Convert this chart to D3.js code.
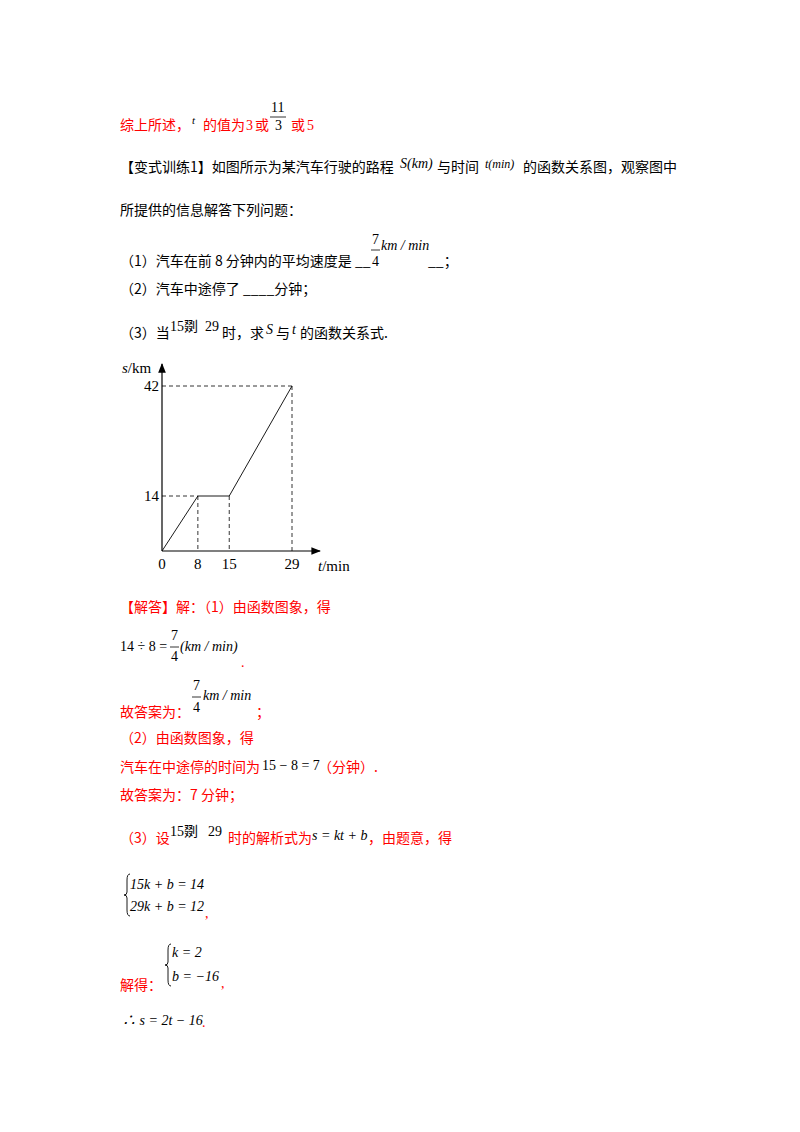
<!DOCTYPE html>
<html><head><meta charset="utf-8">
<script src="https://cdn.jsdelivr.net/npm/d3@7"></script>
<style>
body{margin:0;background:#fff}
text{font-family:"Liberation Serif","Noto Sans CJK SC",serif;font-size:14px}
.cn{font-family:"Noto Sans CJK SC",sans-serif;font-size:14px}
.red{fill:#f00}
.it{font-style:italic}
</style></head>
<body>
<svg id="page" width="800" height="1132"></svg>
<script>
// chart data
const timeValues = [0, 8, 15, 29];
const distValues = [0, 14, 14, 42];
const xTicks = [0, 8, 15, 29];
const yTicks = [14, 42];

const svg = d3.select("#page");

// text runs: [x, y, string, class]
const runs = [
  [120,130,"综上所述，","cn red"],[192,124,"t","it small"],[203,130,"的值为","cn red"],[246,130,"3","red"],[255,130,"或","cn red"],
  [271,112,"11",""],[275,130,"3",""],[291,130,"或","cn red"],[307,130,"5","red"],
  [120,172,"【变式训练1】如图所示为某汽车行驶的路程","cn"],[400,168,"S(km)","it"],[437,172,"与时间","cn"],[485,168,"t(min)","it sm2"],[523,172,"的函数关系图，观察图中","cn"],
  [120,215,"所提供的信息解答下列问题：","cn"],
  [120,266,"（1）汽车在前 8 分钟内的平均速度是 __","cn"],[372,244,"7",""],[372,266,"4",""],[381,250,"km / min","it"],[428,266,"__；","cn"],
  [120,294,"（2）汽车中途停了 ____分钟；","cn"],
  [120,338,"（3）当","cn"],[170,331,"15剟",""],[205,331,"29",""],[222,338,"时，求","cn"],[266,334,"S","it"],[276,338,"与","cn"],[292,334,"t","it"],[300,338,"的函数关系式.","cn"],
  [120,612,"【解答】解：（1）由函数图象，得","cn red"],
  [120,651,"14 ÷ 8 = ",""],[171,640,"7",""],[171,661,"4",""],[180,651,"(km / min)","it"],[241,667,".","red"],
  [120,717,"故答案为：","cn red"],[193,690,"7",""],[193,712,"4",""],[203,700,"km / min","it"],[256,717,"；","cn red"],
  [120,743,"（2）由函数图象，得","cn red"],
  [120,772,"汽车在中途停的时间为","cn red"],[262,770,"15 − 8 = 7",""],[318,772,"（分钟）.","cn red"],
  [120,800,"故答案为：7 分钟；","cn red"],
  [120,843,"（3）设","cn red"],[170,836,"15剟",""],[208,836,"29",""],[228,843,"时的解析式为","cn red"],[312,840,"s = kt + b","it"],[368,843,"，由题意，得","cn red"],
  [130,889,"15k + b = 14","it"],[130,911,"29k + b = 12","it"],[205,918,",","red"],
  [120,990,"解得：","cn red"],[172,957,"k = 2","it"],[172,981,"b = −16","it"],[221,988,",","red"],
  [122,1025,"∴ s = 2t − 16","it"],[202,1027,".","red"]
];
svg.append("g").selectAll("text").data(runs).join("text")
  .attr("x", d => d[0]).attr("y", d => d[1]).attr("class", d => d[3])
  .style("font-size", d => d[3].includes("small") ? "11px" : (d[3].includes("sm2") ? "12px" : null))
  .text(d => d[2]);

// fraction bars and braces
const bars = [[270,286,117],[371,380,250],[170,179,647],[192,201,697]];
svg.append("g").selectAll("line").data(bars).join("line")
  .attr("x1", d => d[0]).attr("x2", d => d[1]).attr("y1", d => d[2]).attr("y2", d => d[2])
  .attr("stroke", "#000").attr("stroke-width", 0.8);
const braces = [[127,874,916],[168,944,986]];
svg.append("g").selectAll("path").data(braces).join("path")
  .attr("d", d => { const m = (d[1] + d[2]) / 2, x = d[0];
    return `M${x+3},${d[1]} Q${x},${d[1]} ${x},${d[1]+6} L${x},${m-3} Q${x},${m} ${x-3},${m} Q${x},${m} ${x},${m+3} L${x},${d[2]-6} Q${x},${d[2]} ${x+3},${d[2]}`; })
  .attr("fill", "none").attr("stroke", "#000").attr("stroke-width", 0.9);

// chart
const x = d3.scaleLinear().domain([0, 29]).range([162, 292]);
const y = d3.scaleLinear().domain([0, 42]).range([551, 386]);
const g = svg.append("g");
const defs = svg.append("defs");
defs.append("marker").attr("id", "arr").attr("viewBox", "0 0 10 10").attr("refX", 9).attr("refY", 5)
  .attr("markerWidth", 8).attr("markerHeight", 8).attr("orient", "auto")
  .append("path").attr("d", "M0,1 L10,5 L0,9 Z").attr("fill", "#000");
g.append("line").attr("x1", x(0)).attr("y1", y(0)).attr("x2", 320).attr("y2", y(0))
  .attr("stroke", "#000").attr("stroke-width", 1.2).attr("marker-end", "url(#arr)");
g.append("line").attr("x1", x(0)).attr("y1", y(0)).attr("x2", x(0)).attr("y2", 364)
  .attr("stroke", "#000").attr("stroke-width", 1.2).attr("marker-end", "url(#arr)");
const pts = timeValues.map((t, i) => [t, distValues[i]]);
// dashed guides
pts.slice(1).forEach(([t, s], i) => {
  if (i !== 1) g.append("line").attr("x1", x(0)).attr("x2", x(t)).attr("y1", y(s)).attr("y2", y(s))
    .attr("stroke", "#000").attr("stroke-width", 0.8).attr("stroke-dasharray", "4,3");
  g.append("line").attr("x1", x(t)).attr("x2", x(t)).attr("y1", y(s)).attr("y2", y(0))
    .attr("stroke", "#000").attr("stroke-width", 0.8).attr("stroke-dasharray", "4,3");
});
g.append("path").datum(pts).attr("d", d3.line().x(d => x(d[0])).y(d => y(d[1])))
  .attr("fill", "none").attr("stroke", "#000").attr("stroke-width", 0.9);
g.selectAll(".xt").data(xTicks).join("text").attr("class", "xt")
  .attr("x", d => x(d)).attr("y", y(0) + 18).attr("text-anchor", "middle").style("font-size", "15px").text(d => d);
g.selectAll(".yt").data(yTicks).join("text").attr("class", "yt")
  .attr("x", x(0) - 3).attr("y", d => y(d) + 5).attr("text-anchor", "end").style("font-size", "15px").text(d => d);
g.append("text").attr("x", 122).attr("y", 373).style("font-size", "15px").html('<tspan font-style="italic">s</tspan>/km');
g.append("text").attr("x", 318).attr("y", 571).style("font-size", "15px").html('<tspan font-style="italic">t</tspan>/min');
</script>
</body></html>
